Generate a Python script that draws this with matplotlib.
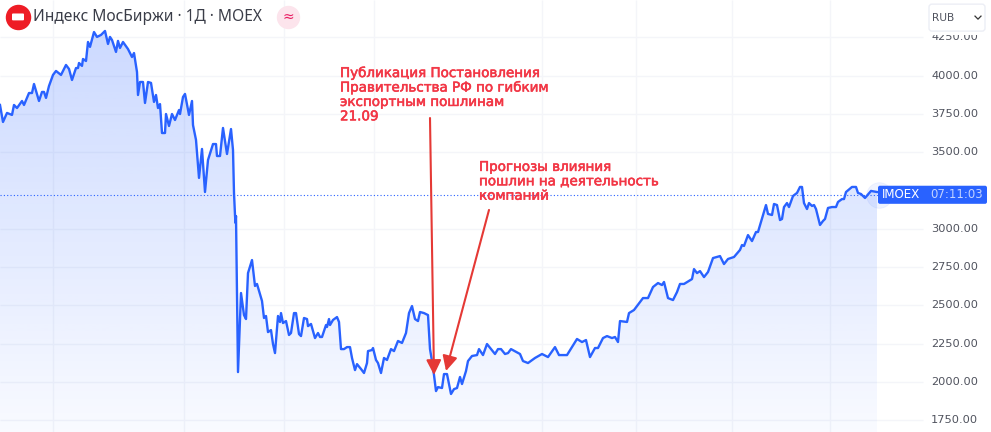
import numpy as np
import matplotlib
matplotlib.use("Agg")
import matplotlib.pyplot as plt
import matplotlib.patheffects as pe
from matplotlib.patches import FancyBboxPatch, Rectangle

# time position of each reading (chart has no date labels)
t_part1 = [0, 3, 7, 12, 14, 17, 22, 24, 29, 32, 34, 39, 42, 44, 46, 49, 53, 56, 61, 66, 69, 72, 76, 78, 79, 82, 83, 86, 88, 90,
           94, 97, 101, 103, 105, 108, 110, 112, 116, 118, 120, 123, 128, 132, 134, 137, 138, 140, 143, 145, 148, 151, 154, 156, 158, 160,
           162, 165, 166, 169, 172, 175, 179, 180, 183, 185, 189, 192, 193, 196, 199, 202, 205, 208, 213, 216, 217, 220, 223, 227, 231, 233, 234]
close_part1 = [3808, 3697, 3756, 3743, 3808, 3788, 3834, 3808, 3886, 3886, 3945, 3834, 3893, 3893, 3854, 3932, 4004, 4030, 4004, 4069, 4043, 3971, 4049, 4049, 4082, 4063, 4108, 4095, 4219, 4187,
               4284, 4252, 4265, 4278, 4291, 4206, 4252, 4232, 4154, 4226, 4180, 4219, 4173, 4121, 4147, 4023, 3873, 3958, 3958, 3821, 3958, 3952, 3828, 3873, 3788, 3814,
               3625, 3625, 3749, 3671, 3749, 3710, 3775, 3749, 3860, 3880, 3743, 3834, 3677, 3580, 3332, 3521, 3240, 3449, 3553, 3553, 3475, 3475, 3658, 3488, 3651, 3514, 3234]

t_part2 = [235, 235.5, 236, 238, 241, 244, 246, 248, 252, 255, 257, 262, 264, 266, 268, 271, 273, 275, 278, 280, 281, 283, 286, 289, 291, 294, 296, 299, 301,
           304, 307, 308, 311, 315, 318, 320, 322, 326, 327, 329, 330, 333, 337, 339, 341, 344, 347, 350, 352, 355, 357, 361, 364, 367, 368, 372, 373, 376, 378, 381,
           384, 387, 391, 394, 398, 402, 406, 409, 412, 415, 418, 420, 424, 428, 430, 432, 434, 436, 438, 442, 444, 447, 451, 454, 457, 460, 462, 466, 468, 472, 477, 479,
           483, 487, 495, 498, 501, 505, 508, 511, 520, 523]
close_part2 = [3090, 3038, 3083, 2065, 2581, 2437, 2411, 2711, 2796, 2627, 2640, 2529, 2418, 2431, 2326, 2339, 2248, 2189, 2431, 2392, 2450, 2385, 2398, 2307, 2320, 2450, 2450, 2313, 2300,
               2418, 2411, 2365, 2379, 2287, 2320, 2294, 2294, 2372, 2359, 2411, 2372, 2405, 2424, 2392, 2215, 2215, 2228, 2228, 2157, 2078, 2117, 2085, 2059, 2124, 2202, 2209, 2222, 2144, 2124, 2059,
               2157, 2144, 2215, 2202, 2268, 2255, 2320, 2450, 2496, 2411, 2398, 2457, 2450, 2437, 2215, 2137, 2046, 1941, 1967, 1961, 2052, 2052, 1922, 1954, 1961, 2033, 1987, 2072, 2137, 2170, 2176, 2215,
               2176, 2248, 2183, 2215, 2215, 2183, 2189, 2215, 2183, 2137]

t_part3 = [528, 535, 542, 548, 555, 559, 567, 577, 582, 586, 590, 595, 598, 603, 607, 612, 615, 618, 620, 627, 629, 634, 643, 648, 653, 658, 662, 664, 668, 673,
           677, 680, 684, 692, 694, 697, 700, 704, 708, 713, 720, 724, 728, 734, 740, 742, 744, 748, 752, 756, 758, 763, 766, 768, 772, 774, 777, 780, 782, 784, 787, 789,
           793, 797, 800, 802, 804, 807, 809, 812, 814, 816, 820, 823, 825, 828, 832, 836, 838, 842, 844, 846, 852, 856, 858, 861, 865, 871, 877]
close_part3 = [2124, 2157, 2183, 2163, 2228, 2176, 2176, 2281, 2261, 2274, 2163, 2222, 2222, 2287, 2300, 2287, 2294, 2261, 2398, 2392, 2450, 2470, 2548, 2548, 2620, 2646, 2633, 2653, 2548, 2535,
               2587, 2640, 2640, 2672, 2737, 2711, 2724, 2685, 2718, 2809, 2822, 2770, 2803, 2816, 2862, 2894, 2888, 2959, 2920, 2979, 2979, 3090, 3155, 3097, 3090, 3162, 3155, 3057, 3064, 3142, 3168, 3142,
               3214, 3234, 3273, 3273, 3168, 3129, 3168, 3149, 3155, 3129, 3025, 3051, 3064, 3136, 3142, 3142, 3175, 3194, 3194, 3240, 3273, 3273, 3234, 3227, 3201, 3247, 3240]

y_ticks = [4250, 4000, 3750, 3500, 3000, 2750, 2500, 2250, 2000, 1750]
time_grid = [53, 184, 284, 374, 542, 636, 732, 830]
last_price = 3222

title = "Индекс МосБиржи · 1Д · MOEX"
note1 = "Публикация Постановления\nПравительства РФ по гибким\nэкспортным пошлинам\n21.09"
note2 = "Прогнозы влияния\nпошлин на деятельность\nкомпаний"

t = np.array(t_part1 + t_part2 + t_part3, dtype=float)
close = np.array(close_part1 + close_part2 + close_part3, dtype=float)

BLUE = "#2962ff"
RED = "#f23645"
ARROW = "#e53935"
GRID = "#f4f5f9"

fig = plt.figure(figsize=(9.91, 4.32), dpi=100)
ax = fig.add_axes([0, 0, 1, 1])

# grid
ax.hlines(y_ticks, 0, 923, color=GRID, lw=1, zorder=1)
ax.vlines(time_grid, 1674, 4493, color=GRID, lw=1, zorder=1)

# area with vertical gradient, clipped to the series
poly = ax.fill_between(t, close, 1674, color="none", zorder=2)
grad = np.zeros((256, 1, 4))
grad[:, 0, :3] = matplotlib.colors.to_rgb(BLUE)
grad[:, 0, 3] = np.linspace(0.24, 0.03, 256)
img = ax.imshow(grad, extent=[0, 878, 1674, close.max()], aspect="auto", origin="upper", zorder=2)
ax.set_xlim(0, 991)
ax.set_ylim(1674, 4493)
ax.axis("off")
img.set_clip_path(poly.get_paths()[0], transform=ax.transData)

ax.plot(t, close, color=BLUE, lw=1.7, solid_joinstyle="round", zorder=3)

# last price line and label
ax.hlines(last_price, 0, 880, color=BLUE, lw=0.8, linestyles=(0, (1, 2)), zorder=3)
ax.scatter([879], [last_price], s=340, facecolor=BLUE, alpha=0.07, edgecolor=BLUE, lw=0.6, zorder=3)

for v in y_ticks:
    ax.text(931, v, f"{v:.2f}", fontsize=8.2, color="#50535e", va="center", ha="left", zorder=4)

ax.add_patch(FancyBboxPatch((878, last_price - 59), 109, 118, boxstyle="round,pad=0,rounding_size=2",
                            mutation_aspect=6.5, fc=BLUE, ec="none", zorder=5))
ax.text(882, last_price, "IMOEX", fontsize=8.6, color="white", va="center", zorder=6)
ax.text(983, last_price, "07:11:03", fontsize=8.4, color="#c3d3ff", va="center", ha="right", zorder=6)

# currency selector, covers the top of the 4250 label
ax.add_patch(Rectangle((926, 4262), 62, 60, fc="white", ec="none", zorder=6))
ax.add_patch(FancyBboxPatch((929, 4290), 56, 176, boxstyle="round,pad=0,rounding_size=3",
                            mutation_aspect=6.5, fc="white", ec="#eceef5", lw=1, zorder=7))
ax.text(932, 4375, "RUB", fontsize=7.6, color="#50535e", va="center", zorder=8)
ax.plot([975, 978, 981], [4388, 4368, 4388], color="#333333", lw=0.9, zorder=8)

# header
ax.scatter([18], [4382], s=300, color="#ee1c25", zorder=6)
ax.text(33, 4382, title, fontsize=11.2, color="#3a3d48", family="Noto Sans", va="center", zorder=6)
ax.scatter([288], [4382], s=250, color="#fce4ec", zorder=6)
ax.text(288, 4382, "≈", fontsize=10, color="#e91e63", ha="center", va="center", zorder=7)
ax.add_patch(FancyBboxPatch((12, 4360), 12, 45, boxstyle="round,pad=0,rounding_size=1",
                            mutation_aspect=6.5, fc="white", ec="none", zorder=7))

# annotations, slight stroke to get the heavier look of the original
heavy = [pe.withStroke(linewidth=0.4, foreground=RED)]
ax.text(340, 4056, note1, fontsize=9.7, color=RED, va="top", linespacing=1.14, zorder=6, path_effects=heavy)
ax.text(479, 3443, note2, fontsize=9.7, color=RED, va="top", linespacing=1.14, zorder=6, path_effects=heavy)

for tail, tip in [((430, 3723), (434, 2046)), ((489, 3123), (446, 2072))]:
    ax.annotate("", xy=tip, xytext=tail, zorder=6,
                arrowprops=dict(arrowstyle="-|>,head_length=0.9,head_width=0.45", color=ARROW, lw=1.5,
                                shrinkA=0, shrinkB=0))

fig.savefig("out.png", dpi=100)
